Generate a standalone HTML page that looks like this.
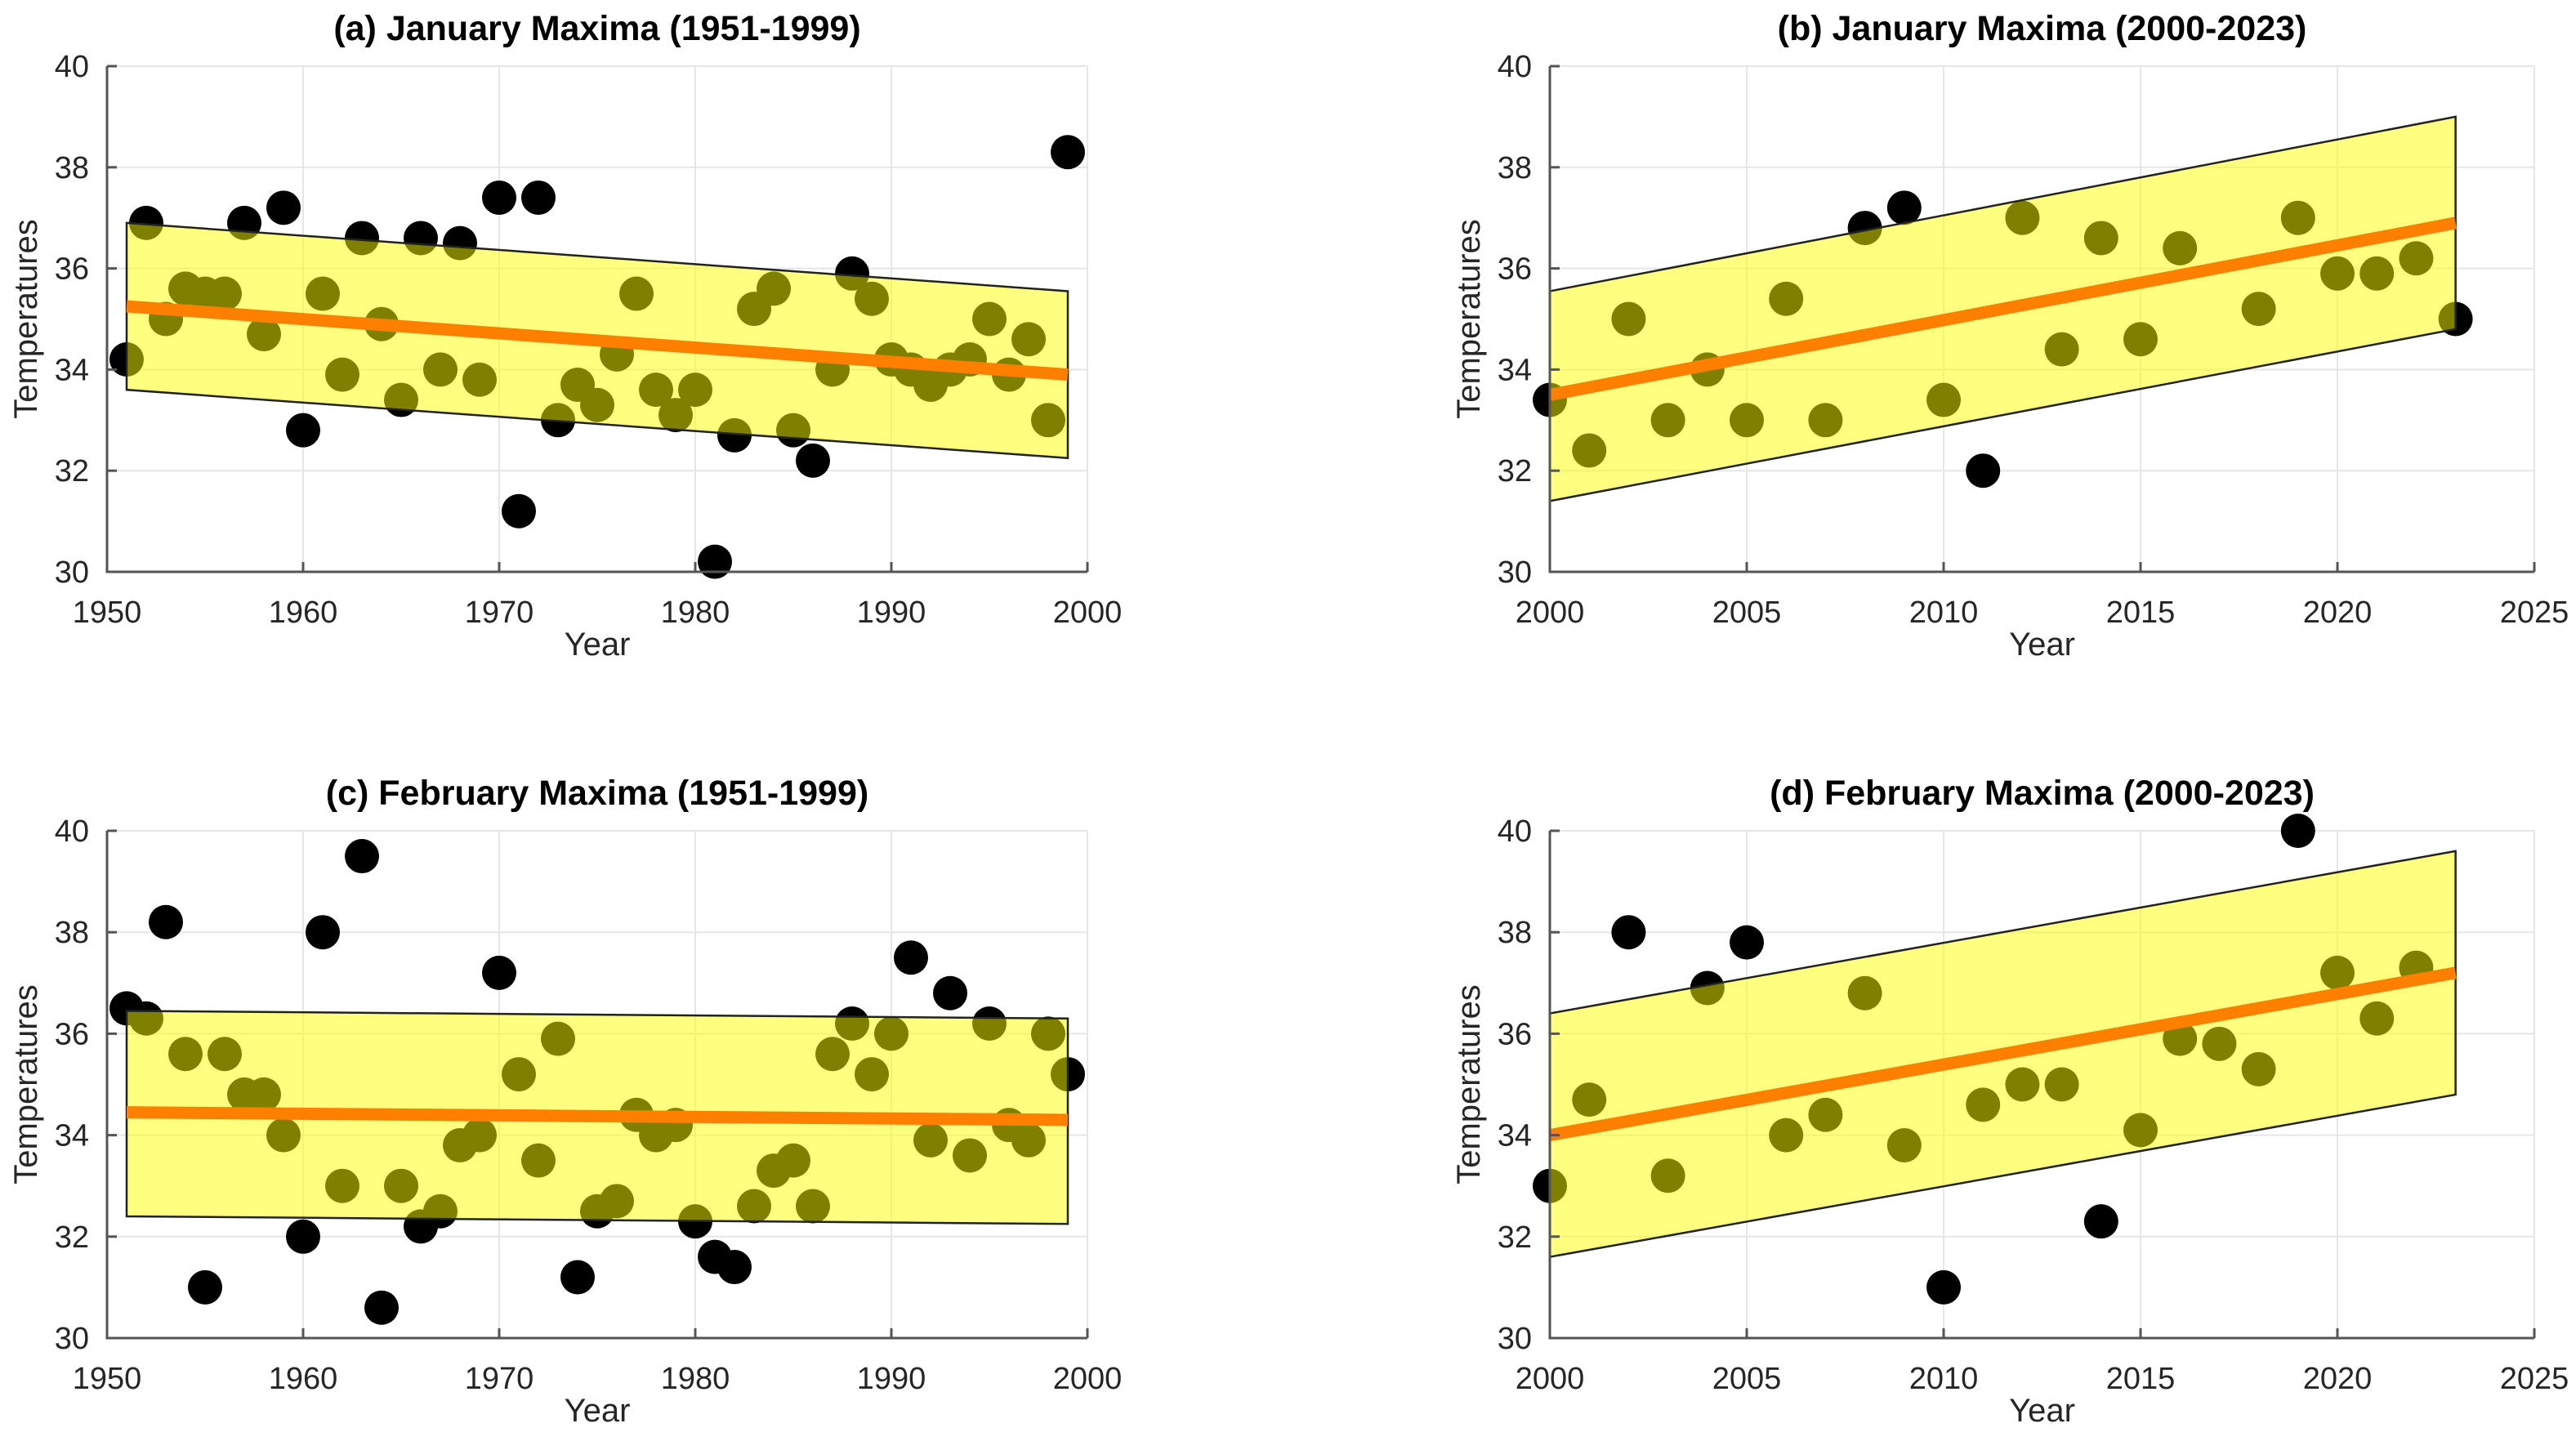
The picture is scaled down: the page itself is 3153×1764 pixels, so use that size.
<!DOCTYPE html>
<html><head><meta charset="utf-8"><style>
html,body{margin:0;padding:0;background:#fff;}
svg{display:block;font-family:"Liberation Sans",Arial,sans-serif;}
</style></head><body>
<svg id="fig" width="3153" height="1764" viewBox="0 0 3153 1764" xmlns="http://www.w3.org/2000/svg"></svg>
<script>
const yearsA = [1951,1952,1953,1954,1955,1956,1957,1958,1959,1960,1961,1962,1963,1964,1965,1966,1967,1968,1969,1970,1971,1972,1973,1974,1975,1976,1977,1978,1979,1980,1981,1982,1983,1984,1985,1986,1987,1988,1989,1990,1991,1992,1993,1994,1995,1996,1997,1998,1999];
const valuesA = [34.2,36.9,35.0,35.6,35.5,35.5,36.9,34.7,37.2,32.8,35.5,33.9,36.6,34.9,33.4,36.6,34.0,36.5,33.8,37.4,31.2,37.4,33.0,33.7,33.3,34.3,35.5,33.6,33.1,33.6,30.2,32.7,35.2,35.6,32.8,32.2,34.0,35.9,35.4,34.2,34.0,33.7,34.0,34.2,35.0,33.9,34.6,33.0,38.3];
const trendA = [35.25,33.9], upperA=[36.9,35.55], lowerA=[33.6,32.25];

const yearsB = [2000,2001,2002,2003,2004,2005,2006,2007,2008,2009,2010,2011,2012,2013,2014,2015,2016,2018,2019,2020,2021,2022,2023];
const valuesB = [33.4,32.4,35.0,33.0,34.0,33.0,35.4,33.0,36.8,37.2,33.4,32.0,37.0,34.4,36.6,34.6,36.4,35.2,37.0,35.9,35.9,36.2,35.0];
const trendB = [33.5,36.9], upperB=[35.55,39.0], lowerB=[31.4,34.8];

const yearsC = yearsA;
const valuesC = [36.5,36.3,38.2,35.6,31.0,35.6,34.8,34.8,34.0,32.0,38.0,33.0,39.5,30.6,33.0,32.2,32.5,33.8,34.0,37.2,35.2,33.5,35.9,31.2,32.5,32.7,34.4,34.0,34.2,32.3,31.6,31.4,32.6,33.3,33.5,32.6,35.6,36.2,35.2,36.0,37.5,33.9,36.8,33.6,36.2,34.2,33.9,36.0,35.2];
const trendC = [34.45,34.3], upperC=[36.45,36.3], lowerC=[32.4,32.25];

const yearsD = [2000,2001,2002,2003,2004,2005,2006,2007,2008,2009,2010,2011,2012,2013,2014,2015,2016,2017,2018,2019,2020,2021,2022];
const valuesD = [33.0,34.7,38.0,33.2,36.9,37.8,34.0,34.4,36.8,33.8,31.0,34.6,35.0,35.0,32.3,34.1,35.9,35.8,35.3,40.0,37.2,36.3,37.3];
const trendD = [34.0,37.2], upperD=[36.4,39.6], lowerD=[31.6,34.8];

const yTicks = [30,32,34,36,38,40];
const xTicksOld = [1950,1960,1970,1980,1990,2000];
const xTicksNew = [2000,2005,2010,2015,2020,2025];

const NS="http://www.w3.org/2000/svg";
const svg=document.getElementById('fig');
function mk(tag,attrs,parent){const e=document.createElementNS(NS,tag);for(const k in attrs)e.setAttribute(k,attrs[k]);(parent||svg).appendChild(e);return e;}

function panel(id,title,L,R,T,B,xmin,xmax,xticks,years,vals,x0,x1,trend,upper,lower){
  const g=mk('g',{});
  
  
  const X=v=>L+(v-xmin)/(xmax-xmin)*(R-L);
  const Y=v=>B-(v-30)/10*(B-T);
  yTicks.forEach(t=>{const l=mk('line',{x1:L,x2:R,y1:Y(t),y2:Y(t),stroke:'#e6e6e6','stroke-width':2},g);
    });
  xticks.forEach(t=>{const l=mk('line',{x1:X(t),x2:X(t),y1:T,y2:B,stroke:'#e6e6e6','stroke-width':2},g);
    });
  years.forEach((yr,i)=>{const c=mk('circle',{cx:X(yr),cy:Y(vals[i]),r:21,fill:'#000'},g);
    });
  const band=mk('polygon',{points:`${X(x0)},${Y(upper[0])} ${X(x1)},${Y(upper[1])} ${X(x1)},${Y(lower[1])} ${X(x0)},${Y(lower[0])}`,fill:'#ffff00','fill-opacity':0.5,stroke:'#222','stroke-width':2.5},g);
  
  const tl=mk('line',{x1:X(x0),y1:Y(trend[0]),x2:X(x1),y2:Y(trend[1]),stroke:'#ff7f00','stroke-width':15},g);
  
  const ax=mk('path',{d:`M${L},${T} L${L},${B} L${R},${B}`,fill:'none',stroke:'#555','stroke-width':3},g);
  
  yTicks.forEach(t=>{mk('line',{x1:L,x2:L+12,y1:Y(t),y2:Y(t),stroke:'#555','stroke-width':3},g);
    const tx=mk('text',{x:L-22,y:Y(t)+13,'text-anchor':'end','font-size':38,fill:'#262626'},g);tx.textContent=t;
    });
  xticks.forEach(t=>{mk('line',{x1:X(t),x2:X(t),y1:B,y2:B-12,stroke:'#555','stroke-width':3},g);
    const tx=mk('text',{x:X(t),y:B+62,'text-anchor':'middle','font-size':38,fill:'#262626'},g);tx.textContent=t;
    });
  const ti=mk('text',{x:(L+R)/2,y:T-32,'text-anchor':'middle','font-size':43,'font-weight':'bold',fill:'#000'},g);ti.textContent=title;
  
  const xl=mk('text',{x:(L+R)/2,y:B+102,'text-anchor':'middle','font-size':40,fill:'#262626'},g);xl.textContent='Year';
  
  const yc=(T+B)/2, yx=L-86;
  const yl=mk('text',{x:yx,y:yc,'text-anchor':'middle','font-size':40,fill:'#262626',transform:`rotate(-90 ${yx} ${yc})`},g);yl.textContent='Temperatures';
  
}
panel('a','(a) January Maxima (1951-1999)',131,1331,81,700,1950,2000,xTicksOld,yearsA,valuesA,1951,1999,trendA,upperA,lowerA);
panel('b','(b) January Maxima (2000-2023)',1897,3102,81,700,2000,2025,xTicksNew,yearsB,valuesB,2000,2023,trendB,upperB,lowerB);
panel('c','(c) February Maxima (1951-1999)',131,1331,1017,1638,1950,2000,xTicksOld,yearsC,valuesC,1951,1999,trendC,upperC,lowerC);
panel('d','(d) February Maxima (2000-2023)',1897,3102,1017,1638,2000,2025,xTicksNew,yearsD,valuesD,2000,2023,trendD,upperD,lowerD);
</script>
</body></html>
